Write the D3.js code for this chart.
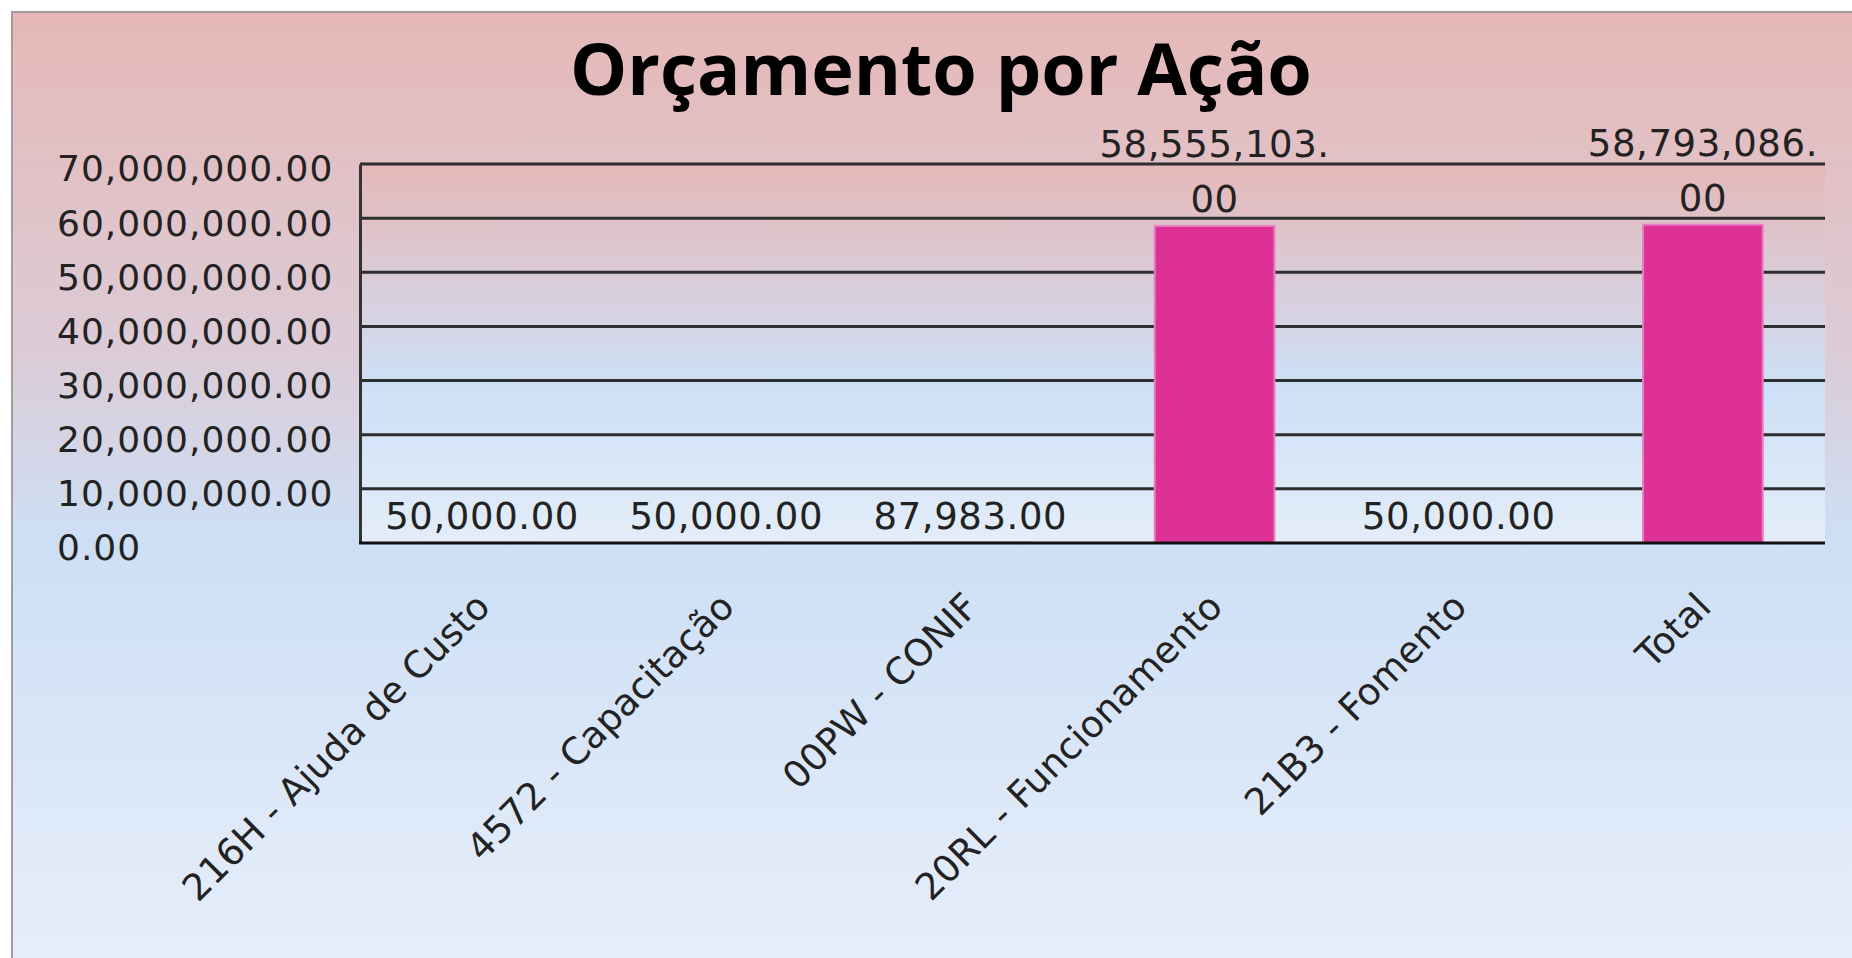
<!DOCTYPE html>
<html>
<head>
<meta charset="utf-8">
<script src="https://cdn.jsdelivr.net/npm/d3@7"></script>
<style>
  body { margin: 0; overflow: hidden; background: #fff; }
  text { font-family: "DejaVu Sans", Verdana, sans-serif; fill: #222; }
</style>
</head>
<body>
<script>
var categories = ['216H - Ajuda de Custo', '4572 - Capacitação', '00PW - CONIF',
                  '20RL - Funcionamento', '21B3 - Fomento', 'Total'];
var values = [50000, 50000, 87983, 58555103, 50000, 58793086];
var yTicks = [0, 10000000, 20000000, 30000000, 40000000, 50000000, 60000000, 70000000];
var title = 'Orçamento por Ação';

var WIDTH  = 1852;
var HEIGHT = 958;
var plotLeft = 360, plotRight = 1825, plotTop = 164, plotBottom = 543;

var svg = d3.select('body')
            .append('svg')
            .attr('width', WIDTH)
            .attr('height', HEIGHT);

var defs = svg.append('defs');

function gradient(id, stops) {
    var g = defs.append('linearGradient')
                .attr('id', id)
                .attr('x1', 0).attr('y1', 0)
                .attr('x2', 0).attr('y2', 1);
    stops.forEach(function(s) {
        g.append('stop').attr('offset', s[0]).attr('stop-color', s[1]);
    });
}

gradient('bgGrad', [[0, '#e6b8b7'], [0.35, '#dccbd6'], [0.55, '#cddff5'], [1, '#e7eefa']]);
gradient('plotGrad', [[0, '#e5b8b8'], [0.35, '#d8cfdd'], [0.58, '#cde0f6'], [1, '#e4edf9']]);

// chart area
svg.append('rect')
   .attr('x', 12).attr('y', 12)
   .attr('width', WIDTH).attr('height', HEIGHT)
   .attr('fill', 'url(#bgGrad)')
   .attr('stroke', '#a39c9c')
   .attr('stroke-width', 2);

svg.append('text')
   .attr('x', 941)
   .attr('y', 95)
   .attr('text-anchor', 'middle')
   .style('font-family', '"Open Sans", sans-serif')
   .style('font-weight', 'bold')
   .style('font-size', '72px')
   .style('fill', '#000')
   .text(title);

var x = d3.scaleBand()
          .domain(categories)
          .range([plotLeft, plotRight])
          .paddingInner(0.51)
          .paddingOuter(0.255);

var y = d3.scaleLinear()
          .domain([0, d3.max(yTicks)])
          .range([plotBottom, plotTop]);

// plot area
svg.append('rect')
   .attr('x', plotLeft).attr('y', plotTop)
   .attr('width', plotRight - plotLeft).attr('height', plotBottom - plotTop)
   .attr('fill', 'url(#plotGrad)');

svg.append('g')
   .selectAll('line')
   .data(yTicks.slice(1))
   .enter()
 .append('line')
   .attr('x1', plotLeft).attr('x2', plotRight)
   .attr('y1', function(d) { return y(d); })
   .attr('y2', function(d) { return y(d); })
   .attr('stroke', '#2e2e2e')
   .attr('stroke-width', 3);

// y axis, labels left aligned at the chart edge
var yAxis = svg.append('g')
               .attr('transform', 'translate(' + plotLeft + ',0)')
               .call(d3.axisLeft(y).tickValues(yTicks).tickFormat(d3.format(',.2f')).tickSize(0));
yAxis.select('.domain').attr('stroke', '#333').attr('stroke-width', 3);
yAxis.selectAll('text')
     .attr('x', 57 - plotLeft)
     .attr('dy', '0.47em')
     .attr('text-anchor', 'start')
     .style('font-family', '"DejaVu Sans", sans-serif')
     .style('font-size', '36px')
     .style('letter-spacing', '1px')
     .attr('fill', '#222');

svg.selectAll('.bar')
   .data(values)
   .enter()
 .append('rect')
   .attr('class', 'bar')
   .attr('x', function(d, i) { return x(categories[i]); })
   .attr('y', function(d) { return y(d); })
   .attr('width', x.bandwidth())
   .attr('height', function(d) { return plotBottom - y(d); })
   .attr('fill', '#dd3196')
   .attr('stroke', '#e87cc0')
   .attr('stroke-width', 2);

// x axis line
svg.append('line')
   .attr('x1', plotLeft - 1).attr('x2', plotRight)
   .attr('y1', plotBottom).attr('y2', plotBottom)
   .attr('stroke', '#111')
   .attr('stroke-width', 3);

// data labels, wrapped when wider than the category slot
var fmt = d3.format(',.2f');
var labels = svg.selectAll('.lbl')
   .data(values)
   .enter()
 .append('text')
   .attr('class', 'lbl')
   .attr('text-anchor', 'middle')
   .style('font-size', '37px')
   .style('letter-spacing', '0.6px')
   .attr('fill', '#222');

labels.each(function(d, i) {
    var t = d3.select(this);
    var cx = x(categories[i]) + x.bandwidth() / 2;
    var s = fmt(d);
    t.text(s);
    var lines = [s];
    if (this.getComputedTextLength() > x.step()) {
        var k = s.indexOf('.') + 1;
        lines = [s.slice(0, k), s.slice(k)];
    }
    t.text(null);
    lines.forEach(function(line, j) {
        t.append('tspan')
         .attr('x', cx)
         .attr('y', y(d) - 14 - (lines.length - 1 - j) * 55)
         .text(line);
    });
});

// rotated category labels
svg.selectAll('.cat')
   .data(categories)
   .enter()
 .append('text')
   .attr('class', 'cat')
   .attr('text-anchor', 'end')
   .style('font-size', '37px')
   .attr('fill', '#222')
   .attr('transform', function(d) {
       return 'translate(' + (x(d) + x.bandwidth() / 2 + 10) + ',' + (plotBottom + 66) + ') rotate(-45)';
   })
   .text(function(d) { return d; });
</script>
</body>
</html>
